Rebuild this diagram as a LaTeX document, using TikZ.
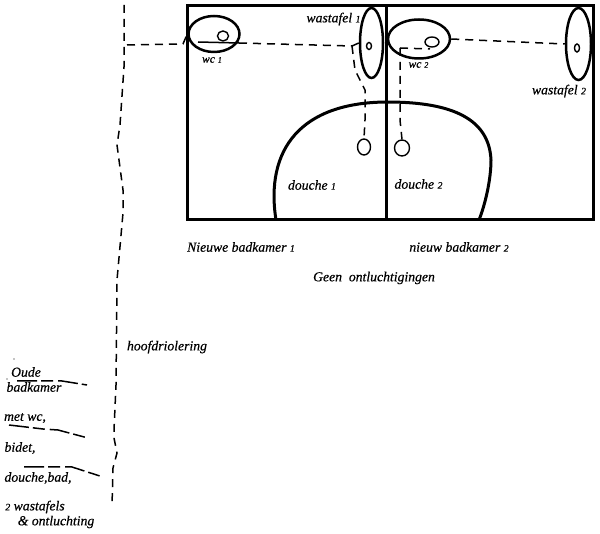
\documentclass[tikz,border=0pt]{standalone}
\usepackage{fontspec}
\setmainfont[ItalicFeatures={FakeBold=0.5}]{Liberation Serif}
\usepackage{tikz}
\usetikzlibrary{shapes.geometric}
\newcommand{\een}{\scalebox{0.72}{1}}
\newcommand{\twee}{\scalebox{0.72}{2}}
\begin{document}
\begin{tikzpicture}[x=1pt,y=-1pt,
   muur/.style={line width=3pt},
   toestel/.style={draw,ellipse,line width=2.5pt,inner sep=0pt},
   putje/.style={draw,ellipse,line width=1.4pt,inner sep=0pt},
   afvoer/.style={line width=1.5pt,dash pattern=on 8pt off 6pt},
   oudlijn/.style={line width=1.5pt,dash pattern=on 20pt off 4pt on 12pt off 5pt},
   tekst/.style={font=\fontsize{13.7}{14}\selectfont\itshape,inner sep=0pt},
   kleintekst/.style={font=\fontsize{11.5}{12}\selectfont\itshape,inner sep=0pt}]
\useasboundingbox (0,0) rectangle (600,534);
\fill[white] (0,0) rectangle (600,534);
\draw[muur] (187,6) rectangle (593,220);
\draw[muur] (386,6) -- (386,220);
\draw[muur] (276,220) .. controls (265,150) and (300,102) .. (388,102);
\draw[muur] (387,102) .. controls (445,102) and (489,115) .. (491,160) .. controls (491,180) and (485,205) .. (479,220);
\node[toestel,minimum width=51pt,minimum height=36pt] (wcA) at (214,34) {};
\node[putje,minimum width=11pt,minimum height=10pt] (wcAput) at (223,36) {};
\node[toestel,minimum width=23pt,minimum height=70pt] (wasA) at (371.5,43) {};
\node[putje,minimum width=5pt,minimum height=7pt] (wasAput) at (369,46) {};
\node[putje,minimum width=13pt,minimum height=16pt] (douA) at (364,147) {};
\node[toestel,minimum width=62pt,minimum height=39pt] (wcB) at (419,39) {};
\node[putje,minimum width=14pt,minimum height=10pt] (wcBput) at (432,42) {};
\node[toestel,minimum width=25pt,minimum height=72pt] (wasB) at (578.5,44) {};
\node[putje,minimum width=5pt,minimum height=8pt] (wasBput) at (577,48) {};
\node[putje,minimum width=15pt,minimum height=16pt] (douB) at (402,148) {};
\coordinate (hoofdA) at (124,5);
\coordinate (hoofdB) at (124,67);
\coordinate (hoofdC) at (120,125);
\coordinate (hoofdD) at (117,145);
\coordinate (hoofdE) at (123,190);
\coordinate (hoofdF) at (123,213);
\coordinate (hoofdG) at (117,280);
\coordinate (hoofdH) at (116,385);
\coordinate (hoofdI) at (114,430);
\coordinate (hoofdJ) at (114,438);
\coordinate (hoofdK) at (117,453);
\coordinate (hoofdL) at (113,468);
\coordinate (hoofdM) at (112,506);
\draw[afvoer] (hoofdA) -- (hoofdB) -- (hoofdC) -- (hoofdD) -- (hoofdE) -- (hoofdF) -- (hoofdG) -- (hoofdH) -- (hoofdI) -- (hoofdJ) -- (hoofdK) -- (hoofdL) -- (hoofdM);
\coordinate (aftak) at (127,45);
\coordinate (wcAin) at (183,44);
\coordinate (wcAbin) at (198,42);
\coordinate (wcAuit) at (239,43);
\coordinate (knikA) at (352,46);
\coordinate (knikB) at (355,70);
\coordinate (knikC) at (365,90);
\coordinate (knikD) at (365,120);
\coordinate (knikE) at (400,48);
\coordinate (knikF) at (400,120);
\coordinate (wcBbin) at (430,49);
\draw[afvoer] (aftak) -- (wcAin) -- (wcA.west);
\draw[line width=1.5pt] (wcAbin) -- (wcAuit);
\draw[afvoer] (wcAuit) -- (knikA);
\draw[line width=1.5pt] (knikA) -- (wasA.west);
\draw[afvoer] (knikA) -- (knikB) -- (knikC) -- (knikD) -- (douA.north);
\draw[afvoer] (wcB.east) -- (wasB.west);
\draw[afvoer] (knikE) -- (wcBbin);
\draw[afvoer] (knikE) -- (knikF) -- (douB.north);
\coordinate (oudA) at (17,381);
\coordinate (oudB) at (62,381);
\coordinate (oudC) at (87,385);
\coordinate (oudD) at (9,425);
\coordinate (oudE) at (43,429);
\coordinate (oudF) at (58,430);
\coordinate (oudG) at (88,438);
\coordinate (oudH) at (24,467);
\coordinate (oudI) at (72,467);
\coordinate (oudJ) at (103,477);
\draw[oudlijn] (oudA) -- (oudB) -- (oudC);
\draw[oudlijn] (oudD) -- (oudE) -- (oudF) -- (oudG);
\draw[oudlijn] (oudH) -- (oudI) -- (oudJ);
\fill (14,359) circle (0.7pt);
\fill (7,379) circle (0.7pt);
\node[kleintekst] (wcAtekst) at (212,60) {wc \een};
\node[kleintekst] (wcBtekst) at (418.5,65) {wc \twee};
\node[tekst] (wasAtekst) at (333.5,19) {wastafel \een};
\node[tekst] (wasBtekst) at (559,91) {wastafel \twee};
\node[tekst] (douAtekst) at (312,185) {douche \een};
\node[tekst] (douBtekst) at (418.5,184) {douche \twee};
\node[tekst] (badA) at (241,247) {Nieuwe badkamer \een};
\node[tekst] (badB) at (459,247) {nieuw badkamer \twee};
\node[tekst] (geen) at (374,278) {Geen\ \ ontluchtigingen};
\node[tekst] (hoofd) at (167,347) {hoofdriolering};
\node[tekst] (oude) at (26,372) {Oude};
\node[tekst] (badkamer) at (34,387) {badkamer};
\node[tekst] (metwc) at (25,418) {met wc,};
\node[tekst] (bidet) at (20,448) {bidet,};
\node[tekst] (douche) at (38,478) {douche,bad,};
\node[tekst] (wastafels) at (35,507) {\twee\ wastafels};
\node[tekst] (ontlucht) at (56,522) {\& ontluchting};
\end{tikzpicture}
\end{document}
